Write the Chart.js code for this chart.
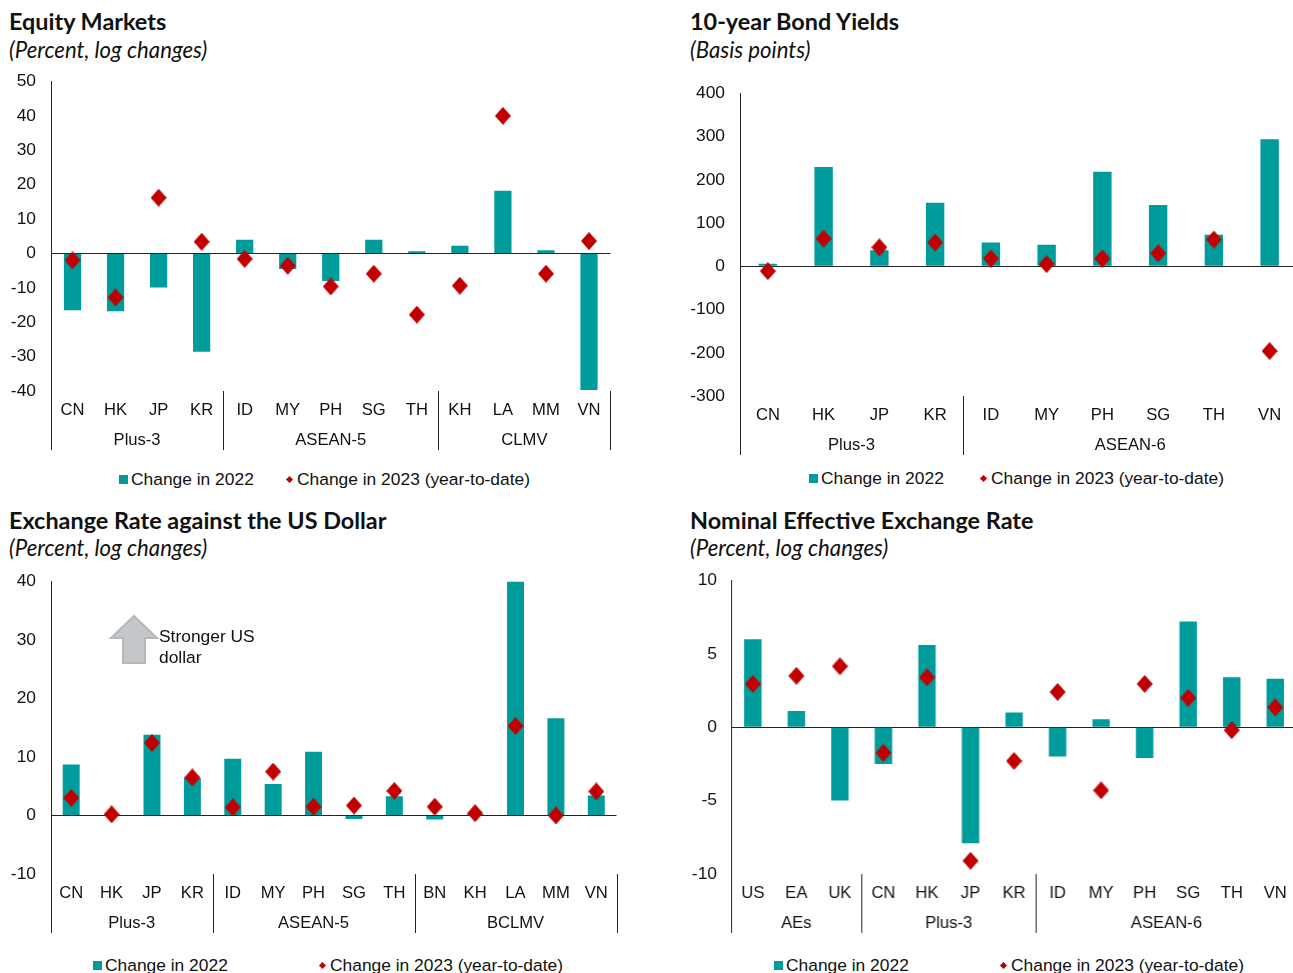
<!DOCTYPE html>
<html>
<head>
<meta charset="utf-8">
<script src="https://cdn.jsdelivr.net/npm/chart.js@4/dist/chart.umd.min.js"></script>
<style>
  html, body { margin: 0; padding: 0; background: #fff; overflow: hidden; }
  body { width: 1293px; height: 973px; position: relative; font-family: "Liberation Sans", Arial, sans-serif; color: #111; }
  .title { position: absolute; font: 700 23.4px "Lato", sans-serif; color: #111; white-space: nowrap; }
  .sub { position: absolute; font: italic 400 22.2px "Lato", sans-serif; color: #111; white-space: nowrap; }
  .box { position: absolute; }
  .legend { position: absolute; font-size: 17.4px; white-space: nowrap; line-height: 20px; }
  .swatch { position: absolute; width: 9px; height: 9px; background: #009B9B; }
  .dia { position: absolute; width: 5px; height: 5px; background: #C00000; transform: rotate(45deg); }
  .note { position: absolute; font-size: 17.4px; line-height: 21px; white-space: nowrap; }
  svg { position: absolute; }
</style>
</head>
<body>
<script>
const seriesNames = ["Change in 2022", "Change in 2023 (year-to-date)"];

// Equity markets
const eqCats = ["CN","HK","JP","KR","ID","MY","PH","SG","TH","KH","LA","MM","VN"];
const eqBars = [-16.5,-16.8,-9.9,-28.6,4.0,-4.5,-8.0,4.0,0.6,2.2,18.2,0.9,-39.7];
const eqDots = [-2.0,-12.8,16.2,3.4,-1.6,-3.6,-9.6,-5.9,-17.8,-9.4,40.0,-5.9,3.6];
const eqGroups = ["Plus-3","ASEAN-5","CLMV"];
const eqSizes = [4,5,4];

// Bond yields
const bondCats = ["CN","HK","JP","KR","ID","MY","PH","SG","TH","VN"];
const bondBars = [6,230,37,147,55,50,219,142,73,294];
const bondDots = [-11,64,44,55,18,5,18,30,62,-196];
const bondGroups = ["Plus-3","ASEAN-6"];
const bondSizes = [4,6];

// Exchange rate vs USD
const fxCats = ["CN","HK","JP","KR","ID","MY","PH","SG","TH","BN","KH","LA","MM","VN"];
const fxBars = [8.7,0.1,13.8,6.4,9.7,5.4,10.9,-0.6,3.3,-0.7,0.2,40.0,16.6,3.4];
const fxDots = [3.0,0.2,12.4,6.5,1.4,7.5,1.5,1.7,4.2,1.5,0.4,15.3,0.0,4.1];
const fxGroups = ["Plus-3","ASEAN-5","BCLMV"];
const fxSizes = [4,5,5];

// Nominal effective exchange rate
const neerCats = ["US","EA","UK","CN","HK","JP","KR","ID","MY","PH","SG","TH","VN"];
const neerBars = [6.0,1.1,-5.0,-2.5,5.6,-7.9,1.0,-2.0,0.55,-2.1,7.2,3.4,3.3];
const neerDots = [2.95,3.5,4.15,-1.75,3.4,-9.1,-2.3,2.4,-4.3,2.95,2.0,-0.2,1.35];
const neerGroups = ["AEs","Plus-3","ASEAN-6"];
const neerSizes = [3,4,6];

const TEAL = "#009B9B";
const RED = "#C00000";
const FONT = "'Liberation Sans', Arial, sans-serif";

// the diamond is a little taller than wide, rectRot can't do that
const diamond = document.createElement("canvas");
diamond.width = 16;
diamond.height = 18;
const dctx = diamond.getContext("2d");
dctx.fillStyle = RED;
dctx.beginPath();
dctx.moveTo(8, 0);
dctx.lineTo(16, 9);
dctx.lineTo(8, 18);
dctx.lineTo(0, 9);
dctx.closePath();
dctx.fill();

// draws the group labels and the vertical separators under the axis
const groupAxis = {
  id: "groupAxis",
  afterDraw(chart, args, opts) {
    const { ctx, scales: { x }, chartArea } = chart;
    const step = x.getPixelForTick(1) - x.getPixelForTick(0);
    const left = chartArea.left;
    ctx.save();
    ctx.font = "16.6px " + FONT;
    ctx.fillStyle = "#111";
    ctx.textAlign = "center";
    ctx.textBaseline = "middle";
    let n = 0;
    const edge = (c) => left + c * step;
    const sep = (px) => {
      ctx.strokeStyle = "#222";
      ctx.lineWidth = 1;
      ctx.beginPath();
      ctx.moveTo(Math.round(px) + 0.5, chartArea.bottom);
      ctx.lineTo(Math.round(px) + 0.5, chartArea.bottom + 59);
      ctx.stroke();
    };
    sep(edge(0));
    opts.names.forEach((name, i) => {
      const from = n;
      n += opts.sizes[i];
      ctx.fillText(name, (edge(from) + edge(n)) / 2, chartArea.bottom + 49);
      sep(edge(n));
    });
    ctx.restore();
  }
};

function panel(p) {
  const box = document.createElement("div");
  box.className = "box";
  // chart.js counts layout padding twice once scales add a margin, so 12 -> 24 and 4 -> 8
  const W = p.right - p.left + p.yw + 9;
  const H = p.bottom - p.top + 62 + 24;
  box.style.cssText = `left:${p.left - p.yw}px;top:${p.top - 24}px;width:${W}px;height:${H}px`;
  const cv = document.createElement("canvas");
  box.appendChild(cv);
  document.body.appendChild(box);

  new Chart(cv, {
    data: {
      labels: p.cats,
      datasets: [
        { type: "line", label: seriesNames[1], data: p.dots, showLine: false, order: 1,
          pointStyle: diamond, pointRadius: 8.5, pointHoverRadius: 8.5 },
        { type: "bar", label: seriesNames[0], data: p.bars, order: 2,
          backgroundColor: TEAL, barPercentage: 1, categoryPercentage: p.barFrac }
      ]
    },
    options: {
      responsive: true,
      maintainAspectRatio: false,
      animation: false,
      layout: { padding: { top: 12, right: 4, bottom: 0, left: 0 } },
      plugins: {
        legend: { display: false },
        tooltip: { enabled: false },
        groupAxis: { names: p.groups, sizes: p.sizes }
      },
      scales: {
        x: {
          grid: { display: false },
          border: { display: false },
          ticks: { color: "#111", font: { family: FONT, size: 16.6 }, padding: p.tickPad,
                   maxRotation: 0, autoSkip: false },
          afterFit(s) { s.height = 62; }
        },
        y: {
          min: p.min, max: p.max,
          afterBuildTicks(s) { s.ticks = p.ticks.map((v) => ({ value: v })); },
          grid: { drawTicks: false, lineWidth: 1,
                  color: (c) => (c.tick && c.tick.value === 0 ? "#222" : "transparent") },
          border: { display: true, color: "#222", width: 1 },
          ticks: { color: "#111", font: { family: FONT, size: 17.4 }, padding: p.yPad },
          afterFit(s) { s.width = p.yw; }
        }
      }
    },
    plugins: [groupAxis]
  });
}

function addText(cls, txt, x, y) {
  const d = document.createElement("div");
  d.className = cls;
  d.textContent = txt;
  d.style.left = x + "px";
  d.style.top = y + "px";
  document.body.appendChild(d);
}

function addLegend(sq, t1, di, t2, y) {
  const s = document.createElement("div");
  s.className = "swatch";
  s.style.left = sq + "px"; s.style.top = (y - 4) + "px";
  document.body.appendChild(s);
  addText("legend", seriesNames[0], t1, y - 10);
  const d = document.createElement("div");
  d.className = "dia";
  d.style.left = di + "px"; d.style.top = (y - 2) + "px";
  document.body.appendChild(d);
  addText("legend", seriesNames[1], t2, y - 10);
}

addText("title", "Equity Markets", 9, 7);
addText("sub", "(Percent, log changes)", 9, 36);
addText("title", "10-year Bond Yields", 690, 7);
addText("sub", "(Basis points)", 690, 36);
addText("title", "Exchange Rate against the US Dollar", 9, 506);
addText("sub", "(Percent, log changes)", 9, 534);
addText("title", "Nominal Effective Exchange Rate", 690, 506);
addText("sub", "(Percent, log changes)", 690, 534);

panel({ cats: eqCats, bars: eqBars, dots: eqDots, groups: eqGroups, sizes: eqSizes,
  left: 51, right: 611, top: 80, bottom: 391, yw: 51, min: -40, max: 50,
  ticks: [-40,-30,-20,-10,0,10,20,30,40,50], barFrac: 0.4, tickPad: 1, yPad: 15 });
panel({ cats: bondCats, bars: bondBars, dots: bondDots, groups: bondGroups, sizes: bondSizes,
  left: 740, right: 1298, top: 92, bottom: 396, yw: 51, min: -300, max: 400,
  ticks: [-300,-200,-100,0,100,200,300,400], barFrac: 0.33, tickPad: 1, yPad: 15 });
panel({ cats: fxCats, bars: fxBars, dots: fxDots, groups: fxGroups, sizes: fxSizes,
  left: 51, right: 617, top: 580, bottom: 874, yw: 51, min: -10, max: 40,
  ticks: [-10,0,10,20,30,40], barFrac: 0.42, tickPad: 1, yPad: 15 });
panel({ cats: neerCats, bars: neerBars, dots: neerDots, groups: neerGroups, sizes: neerSizes,
  left: 731, right: 1296.5, top: 580, bottom: 874, yw: 51, min: -10, max: 10,
  ticks: [-10,-5,0,5,10], barFrac: 0.4, tickPad: 1, yPad: 14 });

addLegend(119, 131, 287, 297, 479);
addLegend(809, 821, 981, 991, 478);
addLegend(93, 105, 320, 330, 965);
addLegend(774, 786, 1001, 1011, 965);

// arrow annotation in the exchange rate panel
const arrow = document.createElementNS("http://www.w3.org/2000/svg", "svg");
arrow.setAttribute("width", "60");
arrow.setAttribute("height", "60");
arrow.style.left = "106px";
arrow.style.top = "610px";
arrow.innerHTML = '<polygon points="28,6 51,28 39,28 39,53 17,53 17,28 5,28" fill="#C4C7CA" stroke="#B4B8BB" stroke-width="2"/>';
document.body.appendChild(arrow);
const note = document.createElement("div");
note.className = "note";
note.style.left = "159px";
note.style.top = "626px";
note.innerHTML = "Stronger US<br>dollar";
document.body.appendChild(note);
</script>
</body>
</html>
